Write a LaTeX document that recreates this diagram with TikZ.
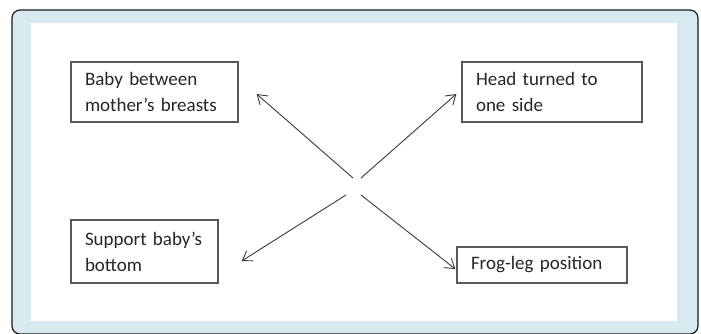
\documentclass[tikz,border=0pt]{standalone}
\usepackage{fontspec}
\setmainfont{Carlito}
\usepackage{xcolor}
\usetikzlibrary{positioning, arrows.meta, calc}
\definecolor{framebg}{HTML}{D7EAF0}
\definecolor{frameline}{HTML}{1A1A1A}
\definecolor{boxline}{HTML}{595959}
\definecolor{textmain}{HTML}{262626}
\definecolor{arrowline}{HTML}{3A3A3A}

\begin{document}
\begin{tikzpicture}[
    x=1pt, y=-1pt,
    stepbox/.style={rectangle, draw=boxline, line width=1.3pt, fill=white, text=textmain,
                    inner xsep=14pt, inner ysep=2pt, align=left,
                    font=\fontsize{19}{26}\selectfont},
    arrow/.style={-{Straight Barb[length=9pt, width=12pt]}, line width=0.9pt, arrowline}
  ]
    \useasboundingbox (0,0) rectangle (701,333);
    % frame
    \draw[rounded corners=8pt, fill=framebg, draw=frameline, line width=1.2pt] (12,10) rectangle (698,334);
    \fill[white] (31,23) rectangle (677,321);

    \node[stepbox, text width=139pt, minimum height=60pt] (b1) at (154.5,92) {Baby between\\mother’s breasts};
    \node[stepbox, text width=152pt, minimum height=60pt] (b2) at (552,92) {Head turned to\\one side};
    \node[stepbox, text width=119pt, minimum height=63pt] (b3) at (144.5,251.5) {Support baby’s\\bottom};
    \node[stepbox, text width=142pt, minimum height=36pt] (b4) at (542,265) {Frog-leg position};

    \coordinate (t1) at (353,178);
    \coordinate (t2) at (361,178);
    \coordinate (t3) at (346,195);
    \coordinate (t4) at (361,195);

    \draw[arrow] (t1) -- ([xshift=18pt, yshift=-2pt]b1.east);
    \draw[arrow] (t2) -- ([xshift=-5pt, yshift=-2pt]b2.west);
    \draw[arrow] (t3) -- ([xshift=23pt, yshift=-9.5pt]b3.east);
    \draw[arrow] (t4) -- ([xshift=-1pt, yshift=-4pt]b4.west);
  \end{tikzpicture}
\end{document}
